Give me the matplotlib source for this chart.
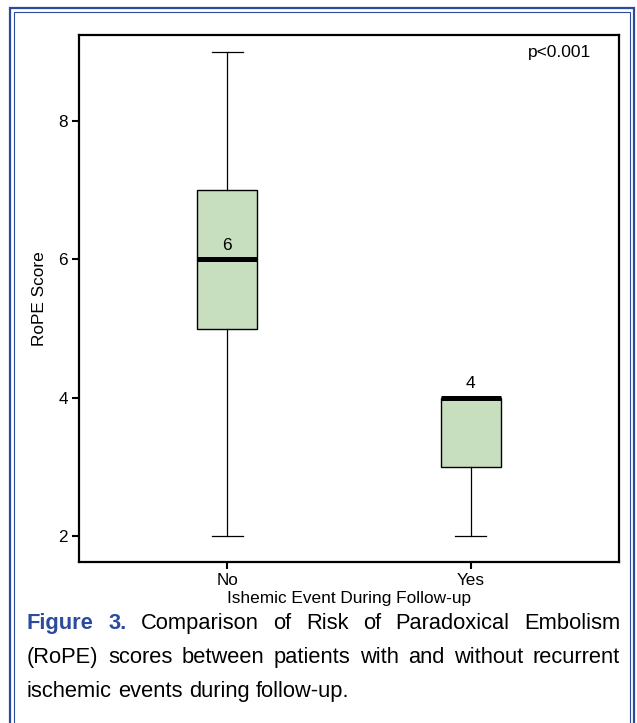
import matplotlib
matplotlib.use("Agg")
import matplotlib.pyplot as plt
from matplotlib.patches import Rectangle

plt.rcParams["font.family"] = ["Liberation Sans", "DejaVu Sans"]

# data
groups = ["No", "Yes"]
whis_lo = [2, 2]
q1 = [5, 3]
medians = [6, 4]
q3 = [7, 4]
whis_hi = [9, 4]

yticks = [2, 4, 6, 8]
p_text = "p<0.001"
xlabel = "Ishemic Event During Follow-up"
ylabel = "RoPE Score"
caption_head = "Figure 3."
caption_lines = [
    "Comparison of Risk of Paradoxical Embolism",
    "(RoPE) scores between patients with and without recurrent",
    "ischemic events during follow-up.",
]

W, H = 637, 723
fig = plt.figure(figsize=(W / 100, H / 100), dpi=100)
ax = fig.add_axes([79 / W, 1 - 562 / H, 540 / W, 527 / H])

stats = []
for i, g in enumerate(groups):
    stats.append(dict(label=g, whislo=whis_lo[i], q1=q1[i], med=medians[i],
                      q3=q3[i], whishi=whis_hi[i], fliers=[]))

pos = [1, 2]
ax.bxp(stats, positions=pos, widths=0.247, capwidths=0.125, showfliers=False,
       patch_artist=True,
       boxprops=dict(facecolor="#c8dfbf", edgecolor="black", linewidth=1.0),
       medianprops=dict(color="black", linewidth=3.6, solid_capstyle="butt"),
       whiskerprops=dict(color="black", linewidth=0.9),
       capprops=dict(color="black", linewidth=0.9))

for x, m in zip(pos, medians):
    ax.text(x, m + 0.1, str(m), ha="center", va="bottom", fontsize=12.5)

ax.set_xlim(0.39, 2.61)
ax.set_ylim(1.62, 9.25)
ax.set_yticks(yticks)
ax.set_yticklabels([str(v) for v in yticks])
ax.set_xticks(pos)
ax.set_xticklabels(groups)
for s in ax.spines.values():
    s.set_linewidth(1.6)
ax.tick_params(direction="out", length=5, width=1.5, labelsize=12.3, pad=3)
ax.set_xlabel(xlabel, fontsize=12.4, labelpad=2)
ax.set_ylabel(ylabel, fontsize=12.4, labelpad=8)
ax.text(0.89, 0.966, p_text, transform=ax.transAxes, ha="center", va="center",
        fontsize=12.5)

# blue double frame around the whole figure
blue = "#2c4b9d"
fig.add_artist(Rectangle((10 / W, -0.05), 624 / W, 1.05 - 8.5 / H,
                         transform=fig.transFigure, fill=False,
                         edgecolor=blue, linewidth=1.6))
fig.add_artist(Rectangle((14 / W, -0.05), 616 / W, 1.05 - 12.5 / H,
                         transform=fig.transFigure, fill=False,
                         edgecolor=blue, linewidth=0.8))

# justified caption
left, right = 27, 620
line_base = [629, 663, 697]
renderer = fig.canvas.get_renderer()

# pick a font size so the longest line (nearly) fills the width
probe = fig.text(0, 0, caption_lines[1], fontsize=14)
fs = 0.97 * 14 * (right - left) / probe.get_window_extent(renderer).width
probe.remove()

probe = fig.text(0, 0, "a a", fontsize=fs)
probe2 = fig.text(0, 0, "aa", fontsize=fs)
space = probe.get_window_extent(renderer).width - probe2.get_window_extent(renderer).width
probe.remove()
probe2.remove()


def put_words(words, y, justify, styles):
    texts = []
    for w, st in zip(words, styles):
        t = fig.text(0, 1 - y / H, w, fontsize=fs, va="baseline", ha="left", **st)
        texts.append(t)
    widths = [t.get_window_extent(renderer).width for t in texts]
    if justify and len(words) > 1:
        gap = (right - left - sum(widths)) / (len(words) - 1)
    else:
        gap = space
    x = left
    for t, wd in zip(texts, widths):
        t.set_x(x / W)
        x += wd + gap


plain = dict(color="black")
head = dict(color=blue, fontweight="bold")
w1 = caption_head.split() + caption_lines[0].split()
put_words(w1, line_base[0], True, [head, head] + [plain] * (len(w1) - 2))
w2 = caption_lines[1].split()
put_words(w2, line_base[1], True, [plain] * len(w2))
w3 = caption_lines[2].split()
put_words(w3, line_base[2], False, [plain] * len(w3))

fig.savefig("out.png", dpi=100)
